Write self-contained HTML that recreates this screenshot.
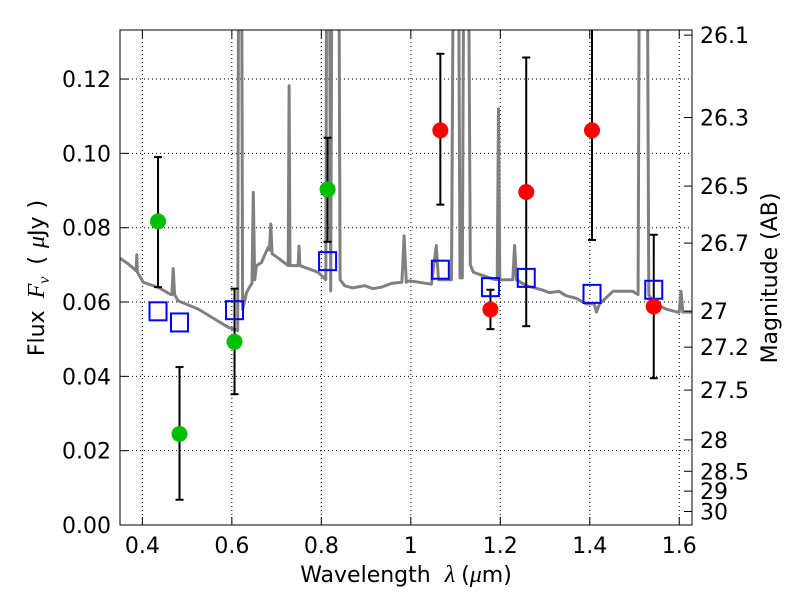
<!DOCTYPE html>
<html><head><meta charset="utf-8"><style>
html,body{margin:0;padding:0;background:#fff;}
svg text{font-family:"DejaVu Sans","Liberation Sans",sans-serif;fill:#000;}
</style></head><body>
<svg id="chart" width="800" height="600" viewBox="0 0 800 600" xmlns="http://www.w3.org/2000/svg">
<defs><clipPath id="clip"><rect x="120" y="30" width="572" height="495"/></clipPath></defs>
<g id="grid"></g>
<g id="spec" clip-path="url(#clip)"></g>
<g id="marks" clip-path="url(#clip)"></g>
<rect x="120" y="30" width="572" height="495" fill="none" stroke="#000" stroke-width="1"/>
<g id="axes"></g>
<text x="406" y="582" font-size="22" text-anchor="middle">Wavelength<tspan dx="14" font-family="Liberation Serif,serif" font-style="italic" font-size="24">λ</tspan><tspan dx="6">(</tspan><tspan font-family="Liberation Serif,serif" font-style="italic" font-size="24">μ</tspan>m)</text>
<text transform="translate(44,278) rotate(-90)" font-size="22" text-anchor="middle">Flux<tspan dx="12" font-family="Liberation Serif,serif" font-style="italic" font-size="24">F</tspan><tspan font-family="Liberation Serif,serif" font-style="italic" font-size="16" dy="5">ν</tspan><tspan dx="12" dy="-5">(</tspan><tspan dx="8" font-family="Liberation Serif,serif" font-style="italic" font-size="24">μ</tspan>Jy<tspan dx="8">)</tspan></text>
<text transform="translate(777,278) rotate(-90)" font-size="22" text-anchor="middle">Magnitude (AB)</text>
</svg>
<script>
const xTicks=[0.4,0.6,0.8,1.0,1.2,1.4,1.6];
const xTickLabels=["0.4","0.6","0.8","1","1.2","1.4","1.6"];
const yTicks=[0,0.02,0.04,0.06,0.08,0.10,0.12];
const yTickLabels=["0.00","0.02","0.04","0.06","0.08","0.10","0.12"];
const magTicks=[26.1,26.3,26.5,26.7,27,27.2,27.5,28,28.5,29,30];
const magTickLabels=["26.1","26.3","26.5","26.7","27","27.2","27.5","28","28.5","29","30"];
const greenWave=[0.435,0.483,0.606,0.814];
const greenFlux=[0.0817,0.0245,0.0493,0.0903];
const greenLo=[0.064,0.0068,0.0352,0.0762];
const greenHi=[0.099,0.0425,0.0636,0.1042];
const redWave=[1.066,1.178,1.258,1.405,1.543];
const redFlux=[0.1062,0.058,0.0896,0.1062,0.0588];
const redLo=[0.0862,0.0527,0.0535,0.0767,0.0395];
const redHi=[0.1268,0.0633,0.1258,0.140,0.0781];
const modelWave=[0.435,0.483,0.606,0.814,1.066,1.178,1.258,1.405,1.543];
const modelFlux=[0.0575,0.0545,0.0578,0.0710,0.0687,0.0640,0.0665,0.0622,0.0633];
const specWave=[0.35,0.369,0.386,0.3875,0.389,0.402,0.436,0.462,0.466,0.469,0.472,0.480,0.525,0.562,0.592,0.613,0.616,0.618,0.621,0.624,0.633,0.640,0.645,0.648,0.651,0.655,0.666,0.681,0.684,0.687,0.690,0.696,0.726,0.728,0.730,0.748,0.750,0.752,0.793,0.81,0.813,0.817,0.821,0.825,0.830,0.834,0.838,0.842,0.852,0.870,0.897,0.915,0.934,0.957,0.980,0.985,0.990,0.997,1.046,1.057,1.062,1.066,1.091,1.097,1.105,1.110,1.115,1.120,1.127,1.133,1.140,1.187,1.193,1.196,1.199,1.205,1.228,1.232,1.236,1.258,1.295,1.31,1.331,1.347,1.37,1.392,1.41,1.415,1.422,1.452,1.496,1.508,1.512,1.527,1.532,1.541,1.570,1.596,1.600,1.604,1.608,1.63];
const specFlux=[0.0718,0.0702,0.0684,0.0727,0.068,0.0653,0.0639,0.0621,0.062,0.069,0.062,0.0603,0.0581,0.0554,0.0532,0.0523,0.2,0.2,0.2,0.058,0.0626,0.0641,0.065,0.0895,0.066,0.0698,0.0706,0.0747,0.074,0.081,0.073,0.0725,0.0698,0.1182,0.0698,0.0698,0.075,0.0698,0.068,0.066,0.2,0.2,0.063,0.2,0.2,0.2,0.2,0.066,0.0644,0.0638,0.0644,0.0636,0.064,0.065,0.0653,0.0778,0.0653,0.0657,0.0648,0.0752,0.066,0.066,0.066,0.2,0.2,0.0665,0.0665,0.2,0.2,0.07,0.068,0.0661,0.066,0.112,0.066,0.066,0.066,0.0752,0.066,0.0644,0.0632,0.0625,0.0629,0.0617,0.061,0.0595,0.0595,0.0573,0.0595,0.0629,0.0629,0.062,0.2,0.2,0.062,0.060,0.0581,0.0573,0.0573,0.0629,0.0573,0.0573];
const NS="http://www.w3.org/2000/svg";
const X0=0.35,X1=1.6285,Y1=0.1332;
function sx(v){return 120+(v-X0)/(X1-X0)*572;}
function sy(v){return 525-v/Y1*495;}
function mag2flux(m){return Math.pow(10,(23.9-m)/2.5);}
function mk(tag,attrs,parent){const e=document.createElementNS(NS,tag);for(const k in attrs)e.setAttribute(k,attrs[k]);parent.appendChild(e);return e;}
const grid=document.getElementById('grid'),axes=document.getElementById('axes');
xTicks.forEach((t,i)=>{
  const g=mk('line',{x1:sx(t),x2:sx(t),y1:30,y2:525,stroke:'#000','stroke-width':1,'stroke-dasharray':'1,3'},grid);
  
  
  mk('line',{x1:sx(t),x2:sx(t),y1:525,y2:517,stroke:'#000'},axes);
  mk('line',{x1:sx(t),x2:sx(t),y1:30,y2:38,stroke:'#000'},axes);
  const l=mk('text',{x:sx(t),y:553,'font-size':22,'text-anchor':'middle'},axes);
  l.textContent=xTickLabels[i];
  
  
});
yTicks.forEach((t,i)=>{
  const g=mk('line',{x1:120,x2:692,y1:sy(t),y2:sy(t),stroke:'#000','stroke-width':1,'stroke-dasharray':'1,3'},grid);
  
  
  mk('line',{x1:120,x2:128,y1:sy(t),y2:sy(t),stroke:'#000'},axes);
  const l=mk('text',{x:111,y:sy(t)+8,'font-size':22,'text-anchor':'end'},axes);
  l.textContent=yTickLabels[i];
  
  
});
magTicks.forEach((m,i)=>{
  const y=sy(mag2flux(m));
  mk('line',{x1:692,x2:684,y1:y,y2:y,stroke:'#000'},axes);
  const l=mk('text',{x:700,y:y+8,'font-size':22},axes);
  l.textContent=magTickLabels[i];
  
  
});
const spec=document.getElementById('spec');
const pts=specWave.map((w,i)=>sx(w).toFixed(1)+','+sy(specFlux[i]).toFixed(1)).join(' ');
const pl=mk('polyline',{points:pts,fill:'none',stroke:'#808080','stroke-width':3,'stroke-linejoin':'round'},spec);


const marks=document.getElementById('marks');
function errs(w,lo,hi){w.forEach((v,i)=>{
  const x=sx(v);
  const e=mk('line',{x1:x,x2:x,y1:sy(lo[i]),y2:sy(hi[i]),stroke:'#000','stroke-width':2},marks);
  
  
  mk('line',{x1:x-4,x2:x+4,y1:sy(lo[i]),y2:sy(lo[i]),stroke:'#000','stroke-width':2},marks);
  mk('line',{x1:x-4,x2:x+4,y1:sy(hi[i]),y2:sy(hi[i]),stroke:'#000','stroke-width':2},marks);
});}
errs(greenWave,greenLo,greenHi);errs(redWave,redLo,redHi);
modelWave.forEach((w,i)=>{
  const r=mk('rect',{x:sx(w)-8.5,y:sy(modelFlux[i])-9,width:17,height:18,fill:'none',stroke:'#0000ff','stroke-width':2},marks);
  
  
});
greenWave.forEach((w,i)=>{
  const c=mk('circle',{cx:sx(w),cy:sy(greenFlux[i]),r:8,fill:'#00bf00'},marks);
  
  
});
redWave.forEach((w,i)=>{
  const c=mk('circle',{cx:sx(w),cy:sy(redFlux[i]),r:8,fill:'#ff0000'},marks);
  
  
});
</script>
</body></html>
